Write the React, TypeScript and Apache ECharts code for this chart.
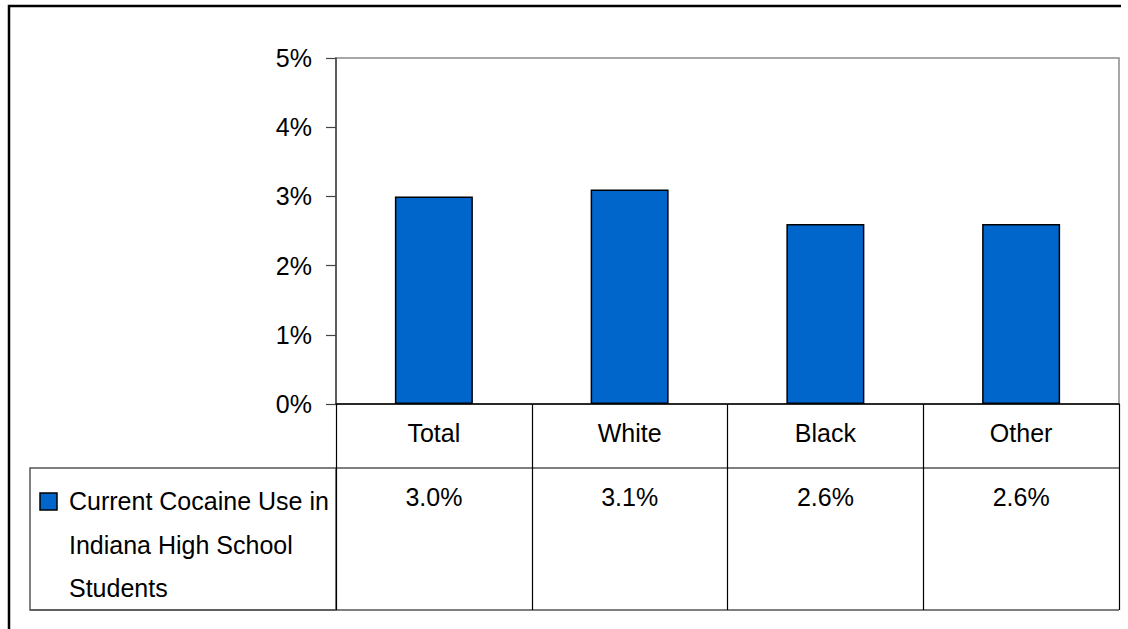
import React, { useEffect, useRef } from "react";
import * as echarts from "echarts";

const categories = ["Total", "White", "Black", "Other"];
const values = [3.0, 3.1, 2.6, 2.6];
const seriesName = "Current Cocaine Use in Indiana High School Students";
const legendLines = ["Current Cocaine Use in", "Indiana High School", "Students"];
const yTicks = { min: 0, max: 5, interval: 1 };

const FONT = "'Liberation Sans', Arial, sans-serif";
const FS = 25;

export default function App() {
  const ref = useRef<HTMLDivElement>(null);
  useEffect(() => {
    if (!ref.current) return;
    const chart = echarts.init(ref.current, undefined, { renderer: "svg" });
    chart.setOption({
      animation: false,
      backgroundColor: "#ffffff",
      grid: {
        left: 336,
        top: 58,
        right: 9,
        bottom: 225,
        show: true,
        borderColor: "#8a8a8a",
        borderWidth: 1.5,
        backgroundColor: "transparent",
      },
      xAxis: [
        {
          type: "category",
          data: categories,
          position: "bottom",
          axisLine: { show: true, lineStyle: { color: "#000", width: 1.5 } },
          axisTick: { show: true, length: 64, interval: 0, lineStyle: { color: "#000", width: 1.2 } },
          axisLabel: { color: "#000", fontSize: FS, fontFamily: FONT, margin: 16, interval: 0 },
          splitLine: { show: false },
        },
        {
          type: "category",
          data: categories,
          position: "bottom",
          offset: 64,
          axisLine: { show: true, lineStyle: { color: "#555", width: 1.5 } },
          axisTick: { show: true, length: 142, interval: 0, lineStyle: { color: "#000", width: 1.2 } },
          axisLabel: {
            color: "#000",
            fontSize: FS,
            fontFamily: FONT,
            margin: 16,
            interval: 0,
            formatter: (_v: string, i: number) => values[i].toFixed(1) + "%",
          },
          splitLine: { show: false },
        },
      ],
      yAxis: {
        type: "value",
        min: yTicks.min,
        max: yTicks.max,
        interval: yTicks.interval,
        axisLine: { show: true, lineStyle: { color: "#444", width: 1.5 } },
        axisTick: { show: true, length: 10, lineStyle: { color: "#444", width: 1.2 } },
        axisLabel: { color: "#000", fontSize: FS, fontFamily: FONT, margin: 24, formatter: "{value}%" },
        splitLine: { show: false },
      },
      series: [
        {
          name: seriesName,
          type: "bar",
          data: values,
          xAxisIndex: 0,
          barWidth: 78,
          itemStyle: { color: "#0066CC", borderColor: "#000", borderWidth: 1.5 },
        },
      ],
      graphic: [
        {
          type: "polyline",
          shape: { points: [[9, 700], [9, 6], [1121, 6]] },
          style: { stroke: "#000", lineWidth: 2.5, fill: "none" },
          silent: true,
        },
        {
          type: "rect",
          shape: { x: 30, y: 468, width: 306, height: 142 },
          style: { stroke: "#555", lineWidth: 1.5, fill: "none" },
          silent: true,
        },
        {
          type: "line",
          shape: { x1: 30, y1: 610, x2: 1119, y2: 610 },
          style: { stroke: "#555", lineWidth: 1.5 },
          silent: true,
        },
        {
          type: "rect",
          shape: { x: 40, y: 493, width: 17, height: 17 },
          style: { fill: "#0066CC", stroke: "#000", lineWidth: 1.5 },
          silent: true,
        },
        ...legendLines.map((t, i) => ({
          type: "text",
          x: 69,
          y: 501 + i * 43.5,
          style: {
            text: t,
            fill: "#000",
            font: `${FS}px ${FONT}`,
            textVerticalAlign: "middle",
            textAlign: "left",
          },
          silent: true,
        })),
      ],
    });
    return () => chart.dispose();
  }, []);
  return (
    <div
      ref={ref}
      style={{ position: "fixed", left: 0, top: 0, width: 1128, height: 629, background: "#fff" }}
    />
  );
}
